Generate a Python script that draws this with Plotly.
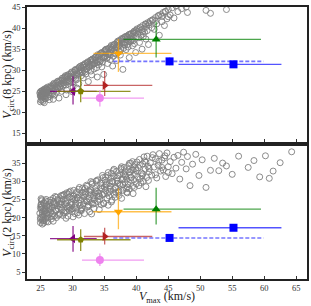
import plotly.graph_objects as go

# ---- simulated halo cloud: V_max, V_circ(8 kpc), V_circ(2 kpc) ----
halo_vmax = [
    24.9, 25.0, 25.1, 25.0, 25.2, 25.3, 25.1, 25.4, 25.2, 25.5, 25.0, 25.3, 25.6, 25.4, 25.7, 25.8, 25.5, 25.9, 26.0, 25.2,
    25.6, 26.1, 25.8, 26.2, 25.1, 26.3, 25.9, 26.4, 25.3, 26.5, 26.6, 26.8, 26.7, 27.0, 26.9, 27.2, 27.1, 27.4, 27.3, 27.6,
    27.5, 27.8, 27.7, 28.0, 27.9, 28.2, 28.1, 26.4, 27.0, 28.3, 28.4, 28.6, 28.5, 28.8, 28.7, 29.0, 28.9, 29.2, 29.1, 29.4,
    29.3, 29.6, 29.5, 29.8, 29.7, 30.0, 29.9, 30.2, 30.1, 30.4, 30.3, 30.6, 30.5, 30.8, 30.7, 31.0, 29.0, 30.0, 31.2, 31.1,
    31.4, 31.3, 31.6, 31.5, 31.8, 31.7, 32.0, 31.9, 32.2, 32.1, 32.4, 32.3, 32.6, 32.5, 32.8, 32.7, 33.0, 32.9, 33.2, 33.1,
    33.4, 33.3, 33.6, 33.5, 33.8, 33.7, 34.0, 33.9, 34.2, 34.1, 34.4, 34.3, 34.6, 34.5, 34.8, 34.7, 35.0, 34.9, 31.0, 33.0,
    35.2, 35.1, 35.4, 35.3, 35.6, 35.5, 35.8, 35.7, 36.0, 35.9, 36.2, 36.1, 36.4, 36.3, 36.6, 36.5, 36.8, 36.7, 37.0, 36.9,
    37.2, 37.1, 37.4, 37.3, 37.6, 37.5, 37.8, 37.7, 38.0, 37.9, 38.2, 38.1, 38.4, 38.3, 38.6, 38.5, 38.8, 38.7, 39.0, 38.9,
    39.2, 39.1, 39.4, 39.3, 39.6, 39.5, 39.8, 39.7, 40.0, 39.9, 40.2, 40.1, 40.4, 40.3, 40.6, 40.5, 40.8, 40.7, 41.0, 40.9,
    41.2, 41.1, 41.4, 41.3, 41.6, 41.5, 41.8, 41.7, 42.0, 41.9, 42.2, 42.4, 42.6, 42.8, 43.0, 43.2, 43.4, 43.6, 43.8, 44.0,
    44.2, 44.4, 44.6, 44.8, 45.0, 45.3, 45.6, 45.9, 46.2, 46.5, 46.8, 47.1, 47.4, 47.8, 48.4, 48.0, 48.8, 49.3, 49.8, 50.3,
    50.9, 51.6, 52.2, 52.9, 53.5, 54.1, 55.0, 56.0, 57.5, 58.4, 59.3, 60.2, 61.4, 62.5, 64.3, 60.8,
    25.0, 25.1, 25.3, 25.4, 25.6, 25.8, 26.0, 26.2, 26.5, 26.8, 27.1, 27.4, 27.7, 28.0, 28.3, 28.6, 28.9, 29.2, 29.5, 29.8,
    30.1, 30.4, 30.7, 31.0, 31.3, 31.6, 31.9, 32.2, 32.5, 32.8, 33.1, 33.4, 33.7, 34.0, 34.3, 34.6, 34.9, 35.2, 35.5, 35.8,
    36.1, 36.4, 36.7, 37.0, 37.3, 37.6, 37.9, 38.2, 38.5, 38.8, 39.1, 39.4, 39.7, 40.0,
    25.2, 25.5, 25.7, 25.9, 26.1, 26.3, 26.6, 26.9, 27.2, 27.5, 27.8, 28.1, 28.4, 28.7, 29.0, 29.3, 29.6, 29.9, 30.2, 30.5,
    30.8, 31.1, 31.4, 31.7, 32.0, 32.3, 32.6, 32.9, 33.2, 33.5, 33.8, 34.1, 34.4, 34.7, 35.0, 35.3, 35.6, 35.9, 36.2, 36.5,
    36.8, 37.1, 37.4, 37.7, 38.0, 38.3, 38.6, 38.9, 39.2, 39.5, 40.5, 41.0, 41.5, 42.0, 42.5, 43.0, 43.5, 44.0, 44.5, 45.0,
]
halo_v8 = [
    24.6, 23.8, 25.0, 22.5, 24.2, 25.1, 22.9, 24.8, 23.5, 25.4, 24.0, 23.1, 24.5, 22.6, 25.6, 24.0, 23.7, 25.3, 24.8, 24.6,
    22.3, 26.0, 23.3, 25.1, 23.9, 24.2, 25.7, 25.9, 24.4, 23.8, 26.3, 25.2, 24.5, 26.6, 25.8, 24.1, 26.9, 25.5, 26.1, 27.2,
    24.8, 26.4, 27.4, 25.9, 23.4, 27.6, 26.8, 23.0, 23.1, 25.0, 28.1, 27.0, 26.2, 28.4, 27.5, 26.5, 28.7, 27.8, 25.3, 29.0,
    27.3, 28.5, 26.9, 29.4, 28.0, 27.1, 29.6, 28.3, 26.0, 29.9, 28.9, 27.7, 30.2, 29.2, 25.8, 30.5, 24.2, 24.9, 29.6, 30.8,
    28.7, 30.1, 31.2, 29.4, 30.7, 28.2, 31.6, 30.0, 31.0, 29.1, 32.0, 30.4, 31.4, 27.3, 32.3, 30.9, 31.8, 29.8, 32.7, 31.1,
    30.3, 32.4, 33.1, 31.7, 30.6, 33.2, 32.1, 28.4, 33.6, 31.3, 33.9, 32.6, 30.8, 34.1, 33.0, 31.9, 34.5, 29.0, 26.8, 28.9,
    33.4, 34.7, 32.8, 35.0, 34.0, 31.6, 35.3, 33.7, 35.6, 32.5, 34.8, 35.9, 33.3, 31.0, 36.2, 34.6, 35.4, 33.9, 36.6, 32.3,
    35.8, 36.9, 34.4, 36.0, 37.2, 33.6, 36.4, 37.5, 35.2, 30.2, 37.8, 36.7, 34.9, 38.0, 36.1, 37.3, 38.4, 35.5, 37.6, 33.0,
    38.7, 36.8, 35.8, 38.1, 39.1, 37.0, 38.9, 36.3, 39.5, 34.2, 38.6, 39.8, 37.7, 39.2, 40.2, 36.6, 39.6, 38.3, 40.6, 35.0,
    39.9, 38.0, 41.0, 39.0, 40.4, 37.4, 41.3, 39.4, 40.8, 36.1, 41.7, 40.1, 42.0, 39.7, 42.5, 41.0, 42.9, 38.3, 43.2, 41.5,
    43.7, 40.6, 44.0, 42.2, 44.4, 43.1, 44.8, 42.4, 45.3, 43.9, 45.8, 44.6, 46.5, 45.0, 47.0, 43.7, 46.9, 47.5, 45.9, 48.6,
    44.2, 43.5, 48.0, 47.2, 49.0, 44.4, 50.0, 49.5, 51.0, 52.0, 51.5, 53.0, 54.0, 53.5, 55.0, 52.5,
    24.9, 24.3, 25.2, 23.9, 25.0, 24.6, 25.5, 23.6, 25.6, 26.2, 25.1, 26.9, 25.7, 27.5, 26.7, 28.2, 27.2, 28.8, 27.6, 29.1,
    28.6, 30.0, 28.8, 29.9, 31.0, 29.7, 31.4, 30.2, 31.9, 31.2, 32.6, 31.5, 32.3, 33.7, 32.0, 34.2, 32.9, 34.9, 33.1, 34.3,
    35.0, 35.8, 34.1, 35.5, 37.0, 35.1, 37.4, 36.0, 38.1, 36.9, 38.6, 37.3, 39.3, 37.9,
    24.1, 24.9, 23.2, 24.4, 25.3, 24.7, 25.9, 24.3, 26.5, 26.0, 27.0, 26.1, 27.7, 26.6, 28.2, 28.6, 27.4, 28.4, 29.5, 28.1,
    30.3, 29.3, 30.6, 31.1, 29.6, 31.7, 30.7, 32.4, 31.4, 32.9, 31.8, 33.3, 32.3, 34.0, 33.2, 34.4, 35.1, 33.6, 35.4, 36.0,
    34.7, 36.3, 35.7, 36.8, 37.7, 36.5, 37.9, 38.5, 37.1, 38.8, 39.9, 39.1, 40.9, 41.2, 41.9, 41.6, 43.0, 42.8, 43.9, 42.7,
]
halo_v2 = [
    21.2, 19.5, 23.4, 18.6, 24.6, 20.8, 22.3, 19.1, 24.9, 21.9, 22.8, 18.2, 23.9, 20.3, 22.5, 19.8, 24.1, 21.0, 23.2, 20.1,
    19.2, 24.4, 22.0, 20.7, 25.2, 23.6, 18.9, 22.2, 21.6, 24.8, 21.4, 23.0, 19.6, 25.3, 22.7, 20.5, 24.0, 21.8, 25.8, 23.3,
    20.0, 22.4, 24.7, 21.1, 23.8, 26.0, 22.9, 20.9, 19.0, 24.3, 22.1, 25.1, 20.6, 23.7, 26.4, 21.5, 24.5, 22.6, 26.8, 23.1,
    20.4, 25.6, 22.0, 24.2, 27.3, 21.7, 23.5, 25.9, 20.2, 24.8, 22.8, 26.6, 23.9, 21.3, 25.4, 27.8, 19.8, 22.4, 23.3, 26.2,
    21.9, 24.9, 28.1, 22.7, 25.7, 23.8, 27.0, 21.1, 24.6, 26.5, 22.9, 28.6, 25.2, 23.5, 26.9, 21.6, 24.1, 27.6, 25.5, 29.2,
    22.5, 26.0, 28.0, 23.9, 25.9, 30.0, 24.4, 27.2, 22.2, 26.7, 29.5, 25.0, 27.9, 23.6, 31.0, 26.3, 28.4, 24.0, 20.7, 21.0,
    27.4, 30.3, 25.4, 29.0, 23.4, 31.6, 27.1, 26.0, 30.8, 28.7, 24.8, 32.2, 27.7, 29.8, 26.4, 31.3, 28.3, 25.6, 30.1, 32.7,
    27.0, 29.4, 31.8, 26.1, 33.2, 28.9, 30.5, 25.3, 32.0, 27.5, 29.7, 33.8, 28.0, 31.4, 26.8, 30.6, 34.3, 29.1, 32.5, 27.9,
    31.1, 35.0, 28.6, 33.0, 30.4, 26.6, 34.6, 31.9, 29.3, 33.5, 31.2, 35.3, 28.8, 33.7, 30.7, 36.0, 32.3, 29.6, 34.8, 31.5,
    36.7, 30.0, 33.3, 35.6, 31.0, 28.5, 34.1, 36.9, 32.6, 30.2, 35.1, 31.7, 37.3, 33.9, 36.2, 30.9, 34.4, 37.6, 32.8, 35.8,
    33.1, 36.4, 31.3, 37.8, 34.0, 35.4, 32.1, 36.6, 33.6, 37.1, 30.6, 35.2, 38.0, 33.4, 28.8, 36.8, 34.7, 37.4, 31.6, 35.9,
    28.3, 33.0, 36.3, 32.9, 35.0, 34.2, 31.9, 36.9, 33.8, 35.7, 31.2, 37.0, 32.8, 35.1, 38.1, 30.8,
    20.0, 23.7, 19.4, 22.6, 20.9, 24.6, 21.3, 18.8, 23.1, 20.3, 24.4, 22.2, 25.0, 20.8, 23.6, 26.2, 21.9, 24.7, 27.0, 22.3,
    25.1, 21.1, 27.1, 24.0, 22.0, 26.9, 24.7, 28.9, 23.2, 26.3, 29.6, 24.9, 27.4, 30.4, 25.8, 28.8, 23.8, 31.2, 26.7, 29.6,
    24.3, 32.9, 28.1, 30.9, 27.3, 33.6, 29.0, 31.7, 27.0, 33.2, 30.3, 35.4, 28.3, 32.9,
    22.9, 18.5, 21.7, 25.0, 19.9, 22.6, 24.2, 21.0, 23.5, 25.6, 20.6, 23.9, 26.1, 21.4, 24.0, 26.5, 22.7, 25.3, 27.5, 23.4,
    25.5, 28.3, 22.4, 26.1, 28.0, 24.3, 27.3, 29.9, 23.7, 26.8, 30.2, 25.9, 28.2, 31.6, 26.5, 29.3, 32.4, 27.8, 30.0, 33.3,
    26.9, 31.5, 29.2, 34.0, 30.7, 32.6, 28.4, 34.9, 31.0, 33.1, 34.4, 32.0, 35.2, 33.5, 36.5, 31.8, 35.5, 33.8, 37.0, 32.4,
]

# ---- observed systems ----
obs_color = ["#800080", "#808000", "#b22222", "#ee82ee", "#ffa500", "#008000", "#0000ff", "#0000ff"]
obs_err_color = ["rgba(128,0,128,0.85)", "rgba(128,128,0,0.85)", "rgba(178,34,34,0.7)",
                 "rgba(238,130,238,0.8)", "rgba(255,165,0,0.7)", "rgba(0,128,0,0.7)",
                 "rgba(70,70,255,0.75)", "rgba(40,40,255,0.8)"]
obs_symbol = ["triangle-left", "pentagon", "triangle-right", "circle", "triangle-down",
              "triangle-up", "square", "square"]
obs_dashed = [False, False, False, False, False, False, True, False]

obs_vmax = [30.1, 31.3, 35.05, 34.3, 37.2, 43.1, 45.2, 55.2]
obs_vmax_lo = [26.5, 27.6, 31.8, 31.5, 33.3, 38.0, 36.4, 46.6]
obs_vmax_hi = [33.8, 39.1, 42.5, 41.2, 45.5, 59.5, 59.9, 62.7]

obs_v8 = [25.0, 25.0, 26.4, 23.4, 34.0, 37.3, 32.1, 31.4]
obs_v8_lo = [21.9, 22.4, 23.9, 21.4, 29.6, 33.0, 31.2, 30.8]
obs_v8_hi = [28.6, 28.6, 29.8, 25.3, 37.4, 41.5, 33.0, 32.0]

obs_v2 = [14.2, 13.9, 14.8, 8.3, 21.6, 22.3, 14.4, 17.2]
obs_v2_lo = [10.6, 10.8, 12.6, 6.7, 16.8, 18.1, 13.6, 16.4]
obs_v2_hi = [17.7, 16.8, 17.2, 10.1, 28.0, 28.2, 15.2, 18.0]

FONT = "Liberation Serif"

fig = go.Figure()


def add_panel(xa, ya, halo_y, oy, oy_lo, oy_hi):
    fig.add_trace(go.Scatter(
        x=halo_vmax, y=halo_y, mode="markers", xaxis=xa, yaxis=ya, showlegend=False,
        marker=dict(symbol="circle-open", size=6, color="#7f7f7f", line=dict(width=0.9, color="#7f7f7f")),
        hoverinfo="skip"))
    for i in range(len(obs_vmax)):
        if obs_dashed[i]:
            fig.add_trace(go.Scatter(
                x=[obs_vmax_lo[i], obs_vmax_hi[i]], y=[oy[i], oy[i]], mode="lines",
                xaxis=xa, yaxis=ya, showlegend=False,
                line=dict(color=obs_err_color[i], width=1.6, dash="4px,2px")))
            ex = dict(visible=False)
        else:
            ex = dict(type="data", symmetric=False,
                      array=[obs_vmax_hi[i] - obs_vmax[i]],
                      arrayminus=[obs_vmax[i] - obs_vmax_lo[i]],
                      color=obs_err_color[i], thickness=1.3, width=0)
        ey = dict(type="data", symmetric=False,
                  array=[oy_hi[i] - oy[i]], arrayminus=[oy[i] - oy_lo[i]],
                  color=obs_err_color[i], thickness=1.3, width=0)
        fig.add_trace(go.Scatter(
            x=[obs_vmax[i]], y=[oy[i]], mode="markers", xaxis=xa, yaxis=ya, showlegend=False,
            error_x=ex, error_y=ey,
            marker=dict(symbol=obs_symbol[i], size=8 if obs_symbol[i] != "pentagon" else 7,
                        color=obs_color[i], line=dict(width=0))))


add_panel("x", "y", halo_v8, obs_v8, obs_v8_lo, obs_v8_hi)
add_panel("x2", "y2", halo_v2, obs_v2, obs_v2_lo, obs_v2_hi)

axis_common = dict(showline=True, linecolor="#222222", linewidth=1.5, mirror=True,
                   showgrid=False, zeroline=False, ticks="outside", ticklen=3,
                   tickwidth=0.8, tickcolor="#333333", automargin=False,
                   tickfont=dict(family=FONT, size=8.5, color="#333333"))

fig.update_layout(
    width=311, height=306,
    margin=dict(l=27, r=4, t=7, b=27),
    paper_bgcolor="white", plot_bgcolor="white",
    xaxis=dict(axis_common, domain=[0, 1], range=[22.9, 66.7], anchor="y",
               tickvals=[25, 30, 35, 40, 45, 50, 55, 60, 65], ticks="inside",
               showticklabels=False),
    yaxis=dict(axis_common, domain=[0.504, 1], range=[13, 45], anchor="x",
               tickvals=[15, 20, 25, 30, 35, 40, 45],
               title=dict(text="<i>V</i><sub>circ</sub>(8 kpc) (km/s)",
                          font=dict(family=FONT, size=12, color="#222222"), standoff=1)),
    xaxis2=dict(axis_common, domain=[0, 1], range=[22.9, 66.7], anchor="y2",
                tickvals=[25, 30, 35, 40, 45, 50, 55, 60, 65], ticks="inside"),
    yaxis2=dict(axis_common, domain=[0, 0.489], range=[3.1, 39.7], anchor="x2",
                tickvals=[5, 10, 15, 20, 25, 30, 35],
                title=dict(text="<i>V</i><sub>circ</sub>(2 kpc) (km/s)",
                           font=dict(family=FONT, size=12, color="#222222"), standoff=1)),
    annotations=[dict(text="<i>V</i><sub>max</sub> (km/s)", xref="paper", yref="paper",
                      x=0.5, y=0, xanchor="center", yanchor="middle", yshift=-18,
                      showarrow=False, font=dict(family=FONT, size=12, color="#222222"))],
)

fig.write_html("out.html", config={"displayModeBar": False},
               post_script="document.body.style.margin='0px';document.body.style.padding='0px';")
